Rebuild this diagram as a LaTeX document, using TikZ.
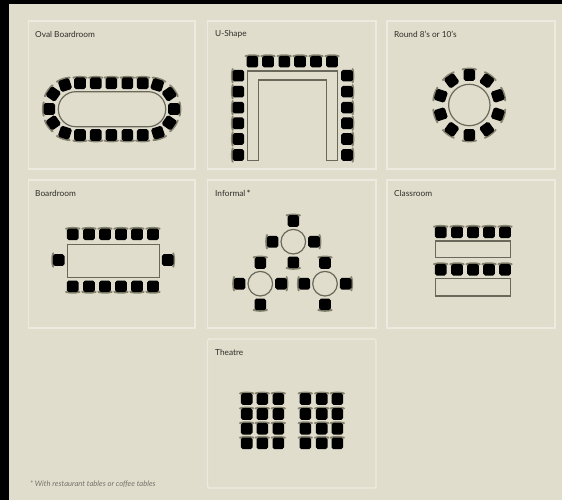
\documentclass[tikz,border=0pt]{standalone}
\usepackage{fontspec}
\setmainfont{Lato}
\definecolor{pagebg}{HTML}{E0DDCC}
\definecolor{panelline}{HTML}{EDEBDF}
\definecolor{tableline}{HTML}{6A685B}
\definecolor{backline}{HTML}{85836F}
\definecolor{labeltext}{HTML}{2E2D28}
\tikzset{
  panel/.style={draw=panelline,line width=1.3pt,fill=pagebg},
  tablebox/.style={draw=tableline,line width=1.2pt},
  lbl/.style={anchor=west,inner sep=0pt,text=labeltext,font=\fontsize{8.3}{9}\selectfont},
  foot/.style={anchor=west,inner sep=0pt,text=labeltext!60!pagebg,font=\fontsize{7.6}{8}\selectfont\itshape},
}
% seat: centre x, y, outward direction (screen degrees, counter-clockwise, 90 = up)
\newcommand{\seat}[3]{%
  \begin{scope}[shift={({#1},{#2})},rotate={#3-90}]
    \draw[backline,line width=2pt,line cap=round] (-6.7,-5.6) to[bend left=12] (6.7,-5.6);
    \fill[black,rounded corners=1.8pt] (-5.8,-5.8) rectangle (5.8,5.8);
  \end{scope}}
\begin{document}
\begin{tikzpicture}[x=1pt,y=-1pt]
\useasboundingbox (0,0) rectangle (562,500);
\fill[black] (0,0) rectangle (562,500);
\fill[pagebg] (9,4) rectangle (562,500);
% panels
\draw[panel] (28.5,21) rectangle (195,169);
\draw[panel] (207.5,21) rectangle (376,169);
\draw[panel] (387,21) rectangle (555,169);
\draw[panel] (28.5,180) rectangle (195,328);
\draw[panel] (207.5,180) rectangle (376,328);
\draw[panel] (387,180) rectangle (555,328);
\draw[panel,rounded corners=1.5pt] (207.5,339) rectangle (376,488);
% labels
\node[lbl] (t1) at (35,34.5) {Oval Boardroom};
\node[lbl] (t2) at (215,34.5) {U-Shape};
\node[lbl] (t3) at (394,34.5) {Round 8's or 10's};
\node[lbl] (t4) at (35,193) {Boardroom};
\node[lbl] (t5) at (215,193) {Informal\,\textbf{*}};
\node[lbl] (t6) at (394,193) {Classroom};
\node[lbl] (t7) at (215,352.5) {Theatre};
\node[foot] (t8) at (30,484) {* With restaurant tables or coffee tables};
% Oval boardroom
\draw[tablebox,rounded corners=17.4pt] (58.3,91.7) rectangle (165.7,126.7);
\foreach \x in {80,95.7,111.3,127.3,142.7}{\seat{\x}{83.3}{90}\seat{\x}{135}{-90}}
\seat{65}{85}{108}\seat{157.3}{85}{72}\seat{65}{132.7}{-108}\seat{158}{132.7}{-72}
\seat{53.3}{94}{145}\seat{49.3}{109}{180}\seat{53.3}{122.7}{215}
\seat{169.3}{94}{35}\seat{174}{109}{0}\seat{169.3}{122.7}{-35}
% U-shape
\draw[tablebox] (247.3,160.7) -- (247.3,71) -- (337.3,71) -- (337.3,160.7) -- (326.7,160.7) -- (326.7,80) -- (258.3,80) -- (258.3,160.7) -- cycle;
\foreach \x in {252.3,268,284.3,300,316,332}{\seat{\x}{61.7}{90}}
\foreach \y in {75.7,91.7,107.7,123.3,139,155}{\seat{238.3}{\y}{180}\seat{347}{\y}{0}}
% Round
\draw[tablebox] (469.3,105) circle (20.7);
\foreach \a in {90,54,18,-18,-54,-90,-126,-162,162,126}{\seat{469.3+30*cos(\a)}{105-30*sin(\a)}{\a}}
% Boardroom
\draw[tablebox] (67.3,244.3) rectangle (159.3,277.3);
\foreach \x in {72.7,89,105,121,137,153}{\seat{\x}{234.3}{90}\seat{\x}{286.3}{-90}}
\seat{58.7}{260}{180}\seat{167.7}{260}{0}
% Informal
\foreach \cx/\cy in {293.3/241.7,260.3/283.7,325/283.7}{
  \draw[tablebox] (\cx,\cy) circle (12.3);
  \seat{\cx}{\cy-20.7}{90}\seat{\cx}{\cy+20.7}{-90}\seat{\cx-20.7}{\cy}{180}\seat{\cx+20.7}{\cy}{0}
}
% Classroom
\draw[tablebox] (435.3,241) rectangle (510.3,257.7);
\draw[tablebox] (435.3,278.7) rectangle (510.3,296);
\foreach \x in {440.7,457,473,489,505}{\seat{\x}{232.3}{90}\seat{\x}{269.7}{90}}
% Theatre
\foreach \x in {246.7,262.3,278.3,305.3,321.7,337.3}{\foreach \y in {399,414,428.7,443.3}{\seat{\x}{\y}{90}}}
\end{tikzpicture}
\end{document}
